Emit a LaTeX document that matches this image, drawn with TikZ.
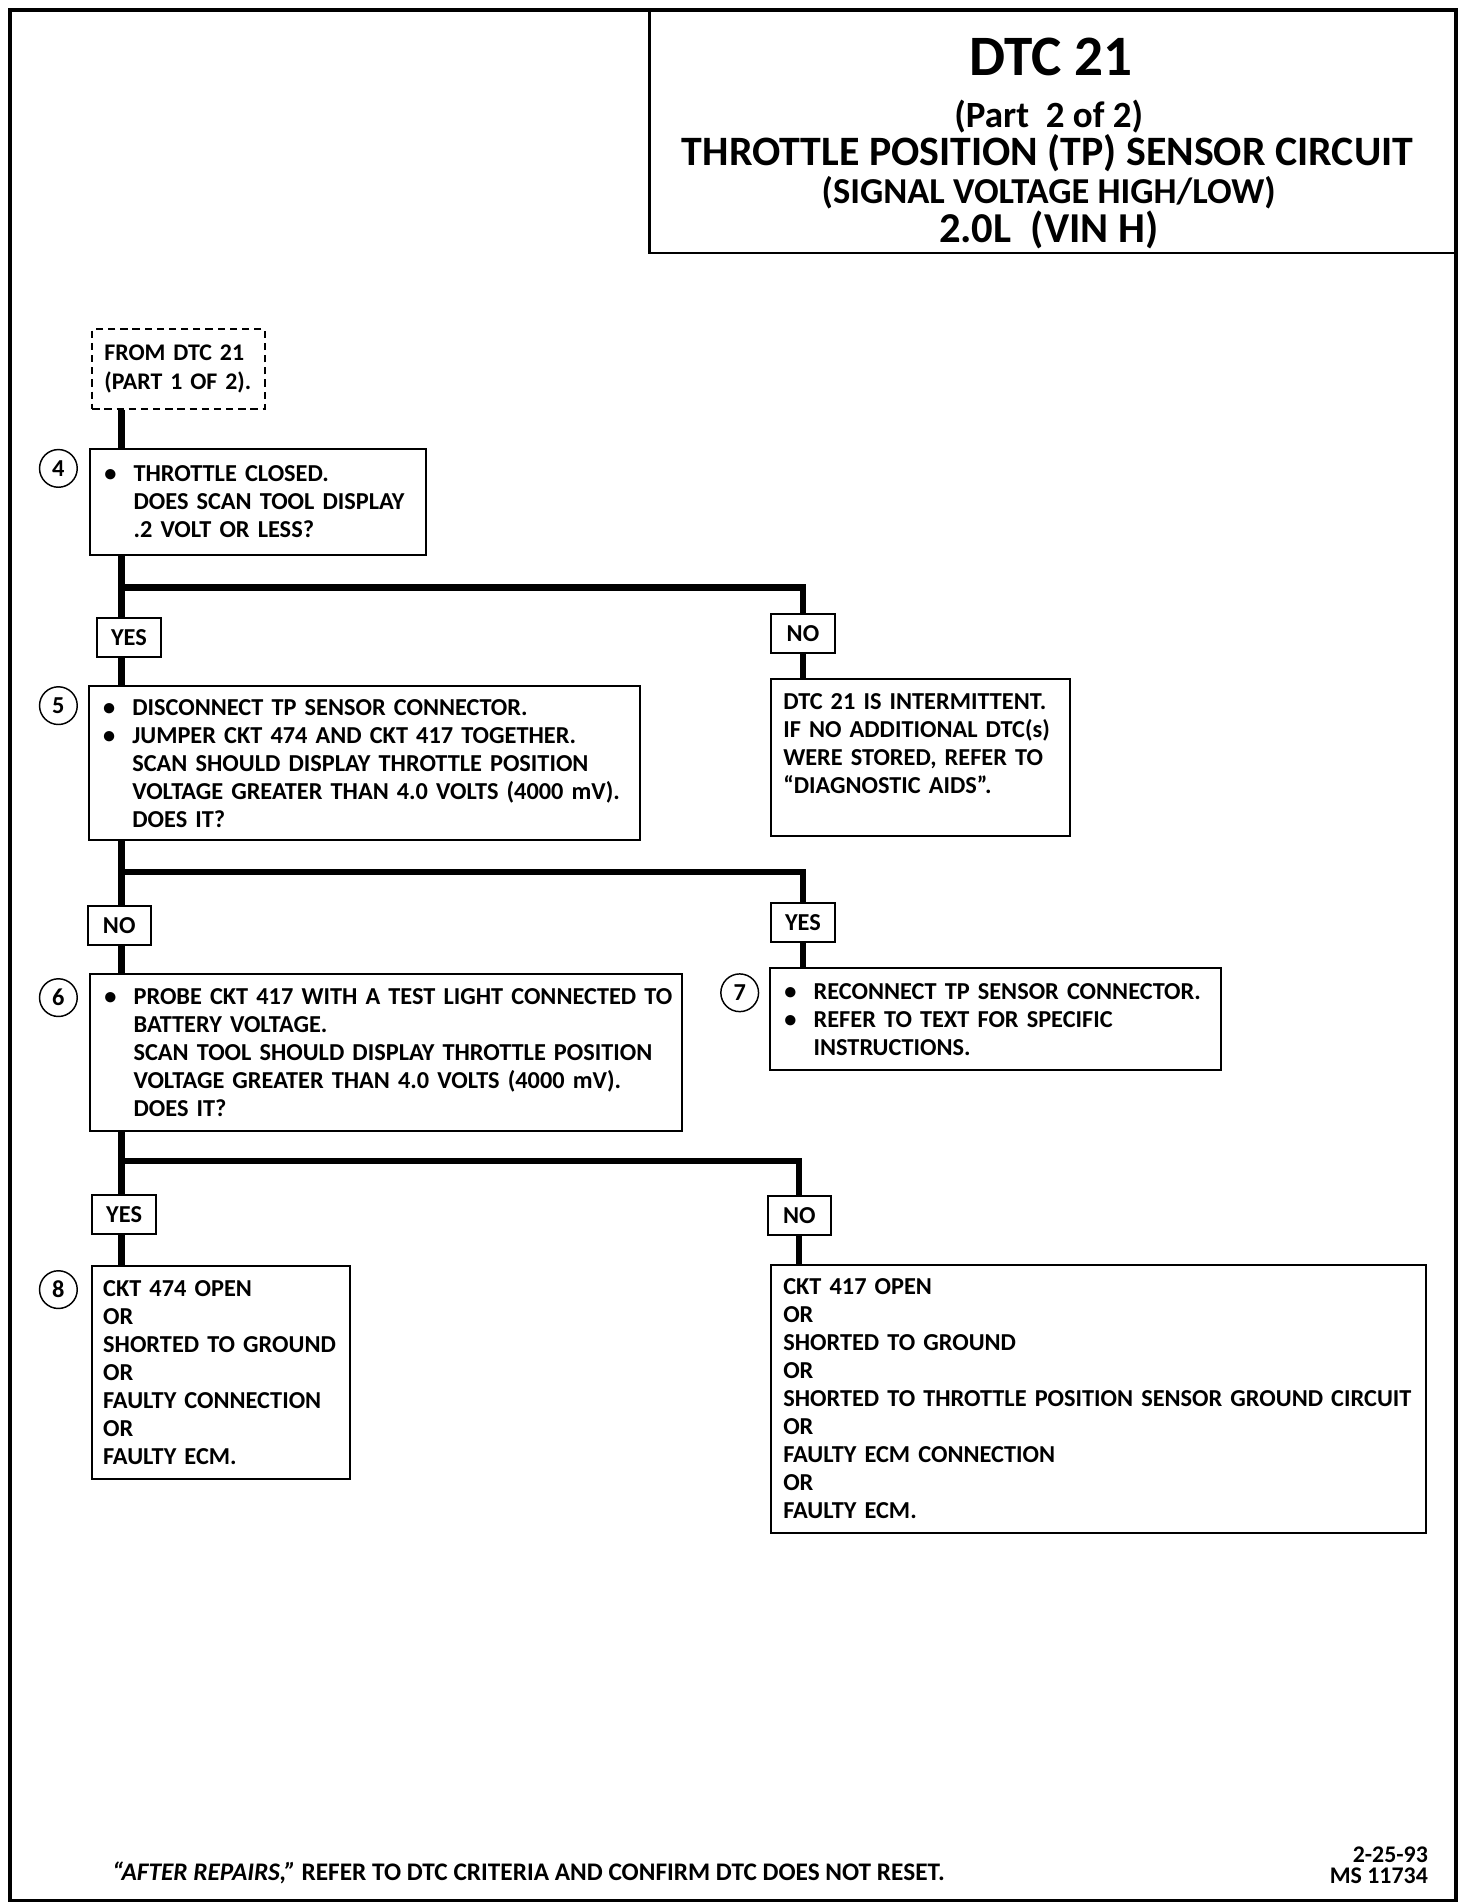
\documentclass[tikz,border=0pt]{standalone}
\usepackage{fontspec}
\setmainfont{Carlito}
\newcommand{\bul}{\makebox[12pt][l]{\textbullet}}
\newcommand{\ind}{\hspace*{12pt}}
\tikzset{
  box/.style={draw, line width=0.8pt, anchor=north west, align=left, inner xsep=5pt, inner ysep=0pt},
  tag/.style={draw, line width=0.8pt, minimum width=26pt, minimum height=16pt, inner sep=0pt},
  num/.style={draw, circle, line width=0.6pt, minimum size=15.5pt, inner sep=0pt},
  link/.style={line width=2.6pt},
  head/.style={anchor=base, inner sep=0pt}
}
\begin{document}
\begin{tikzpicture}[x=0.5pt, y=-0.5pt, font=\fontsize{10}{11.5}\selectfont\bfseries]
  \useasboundingbox (0,0) rectangle (1210,1565);
  \draw[line width=1.5pt] (8,8) rectangle (1197,1562);
  \node[draw, line width=1pt, anchor=north west, minimum width=331pt, minimum height=99.5pt] (title) at (533,8) {};
  \node[head, font=\fontsize{23.5}{23.5}\selectfont\bfseries] (t1) at (864,62) {DTC 21};
  \node[head, font=\fontsize{15.2}{15.2}\selectfont\bfseries] (t2) at (862,105) {(Part~ 2 of 2)};
  \node[head, font=\fontsize{17.2}{17.2}\selectfont\bfseries] (t3) at (861,136) {THROTTLE POSITION (TP) SENSOR CIRCUIT};
  \node[head, font=\fontsize{15}{15}\selectfont\bfseries] (t4) at (862,167) {(SIGNAL VOLTAGE HIGH/LOW)};
  \node[head, font=\fontsize{17.5}{17.5}\selectfont\bfseries] (t5) at (862,199) {2.0L~ (VIN H)};

  \node[box, dashed, dash pattern=on 3pt off 2pt, text width=61pt, minimum height=32.5pt, font=\fontsize{9.8}{12}\selectfont\bfseries] (from) at (75,270) {FROM DTC 21\\(PART 1 OF 2).};
  \node[box, inner xsep=6pt, text width=126pt, minimum height=43.5pt] (q4) at (73,368) {\bul THROTTLE CLOSED.\\\ind DOES SCAN TOOL DISPLAY\\\ind .2 VOLT OR LESS?};
  \node[box, inner xsep=6pt, text width=214.5pt, minimum height=63.5pt] (q5) at (72,563) {\bul DISCONNECT TP SENSOR CONNECTOR.\\\bul JUMPER CKT 474 AND CKT 417 TOGETHER.\\\ind SCAN SHOULD DISPLAY THROTTLE POSITION\\\ind \mbox{VOLTAGE GREATER THAN 4.0 VOLTS (4000 mV).}\\\ind DOES IT?};
  \node[box, text width=113pt, minimum height=64.5pt] (intm) at (633,557) {DTC 21 IS INTERMITTENT.\\IF NO ADDITIONAL DTC(s)\\WERE STORED, REFER TO\\``DIAGNOSTIC AIDS''.\\~};
  \node[box, inner xsep=6pt, text width=231.5pt, minimum height=64.5pt] (q6) at (73,800) {\bul \mbox{PROBE CKT 417 WITH A TEST LIGHT CONNECTED TO}\\\ind BATTERY VOLTAGE.\\\ind SCAN TOOL SHOULD DISPLAY THROTTLE POSITION\\\ind VOLTAGE GREATER THAN 4.0 VOLTS (4000 mV).\\\ind DOES IT?};
  \node[box, inner xsep=6pt, text width=173.5pt, minimum height=42pt] (q7) at (632,795) {\bul \mbox{RECONNECT TP SENSOR CONNECTOR.}\\\bul REFER TO TEXT FOR SPECIFIC\\\ind INSTRUCTIONS.};
  \node[box, inner xsep=4.5pt, text width=97pt, minimum height=87.5pt] (q8) at (75,1040) {CKT 474 OPEN\\OR\\\mbox{SHORTED TO GROUND}\\OR\\\mbox{FAULTY CONNECTION}\\OR\\FAULTY ECM.};
  \node[box, inner xsep=5pt, text width=259pt, minimum height=110pt] (r9) at (633,1039) {CKT 417 OPEN\\OR\\SHORTED TO GROUND\\OR\\\mbox{SHORTED TO THROTTLE POSITION SENSOR GROUND CIRCUIT}\\OR\\FAULTY ECM CONNECTION\\OR\\FAULTY ECM.};

  \node[num] (c4) at (48,385) {4};
  \node[num] (c5) at (48,580) {5};
  \node[num] (c6) at (48,820) {6};
  \node[num] (c7) at (608,816) {7};
  \node[num] (c8) at (48,1060) {8};

  \node[tag] (yes1) at (106,524) {YES};
  \node[tag] (no1) at (660,521) {NO};
  \node[tag] (no2) at (98,761) {NO};
  \node[tag] (yes2) at (660,758) {YES};
  \node[tag] (yes3) at (102,998) {YES};
  \node[tag] (no3) at (657,999) {NO};

  \coordinate (t) at (100,0);
  \coordinate (b1) at (100,483);
  \coordinate (b2) at (100,717);
  \coordinate (b3) at (100,954);
  \draw[link] (from.south -| t) -- (q4.north -| t);
  \draw[link] (q4.south -| t) -- (yes1.north -| t);
  \draw[link] (b1) -| (no1.north);
  \draw[link] (yes1.south -| t) -- (q5.north -| t);
  \draw[link] (no1.south) -- (intm.north -| no1);
  \draw[link] (q5.south -| t) -- (no2.north -| t);
  \draw[link] (b2) -| (yes2.north);
  \draw[link] (no2.south -| t) -- (q6.north -| t);
  \draw[link] (yes2.south) -- (q7.north -| yes2);
  \draw[link] (q6.south -| t) -- (yes3.north -| t);
  \draw[link] (b3) -| (no3.north);
  \draw[link] (yes3.south -| t) -- (q8.north -| t);
  \draw[link] (no3.south) -- (r9.north -| no3);

  \node[anchor=base west, inner sep=0pt, font=\fontsize{10.4}{11}\selectfont\bfseries] (note) at (92,1546) {\textit{``AFTER REPAIRS,''} REFER TO DTC CRITERIA AND CONFIRM DTC DOES NOT RESET.};
  \node[anchor=south east, align=right, inner sep=0pt, font=\fontsize{9.8}{9}\selectfont\bfseries] (ref) at (1174,1549) {2-25-93\\MS 11734};
\end{tikzpicture}
\end{document}
